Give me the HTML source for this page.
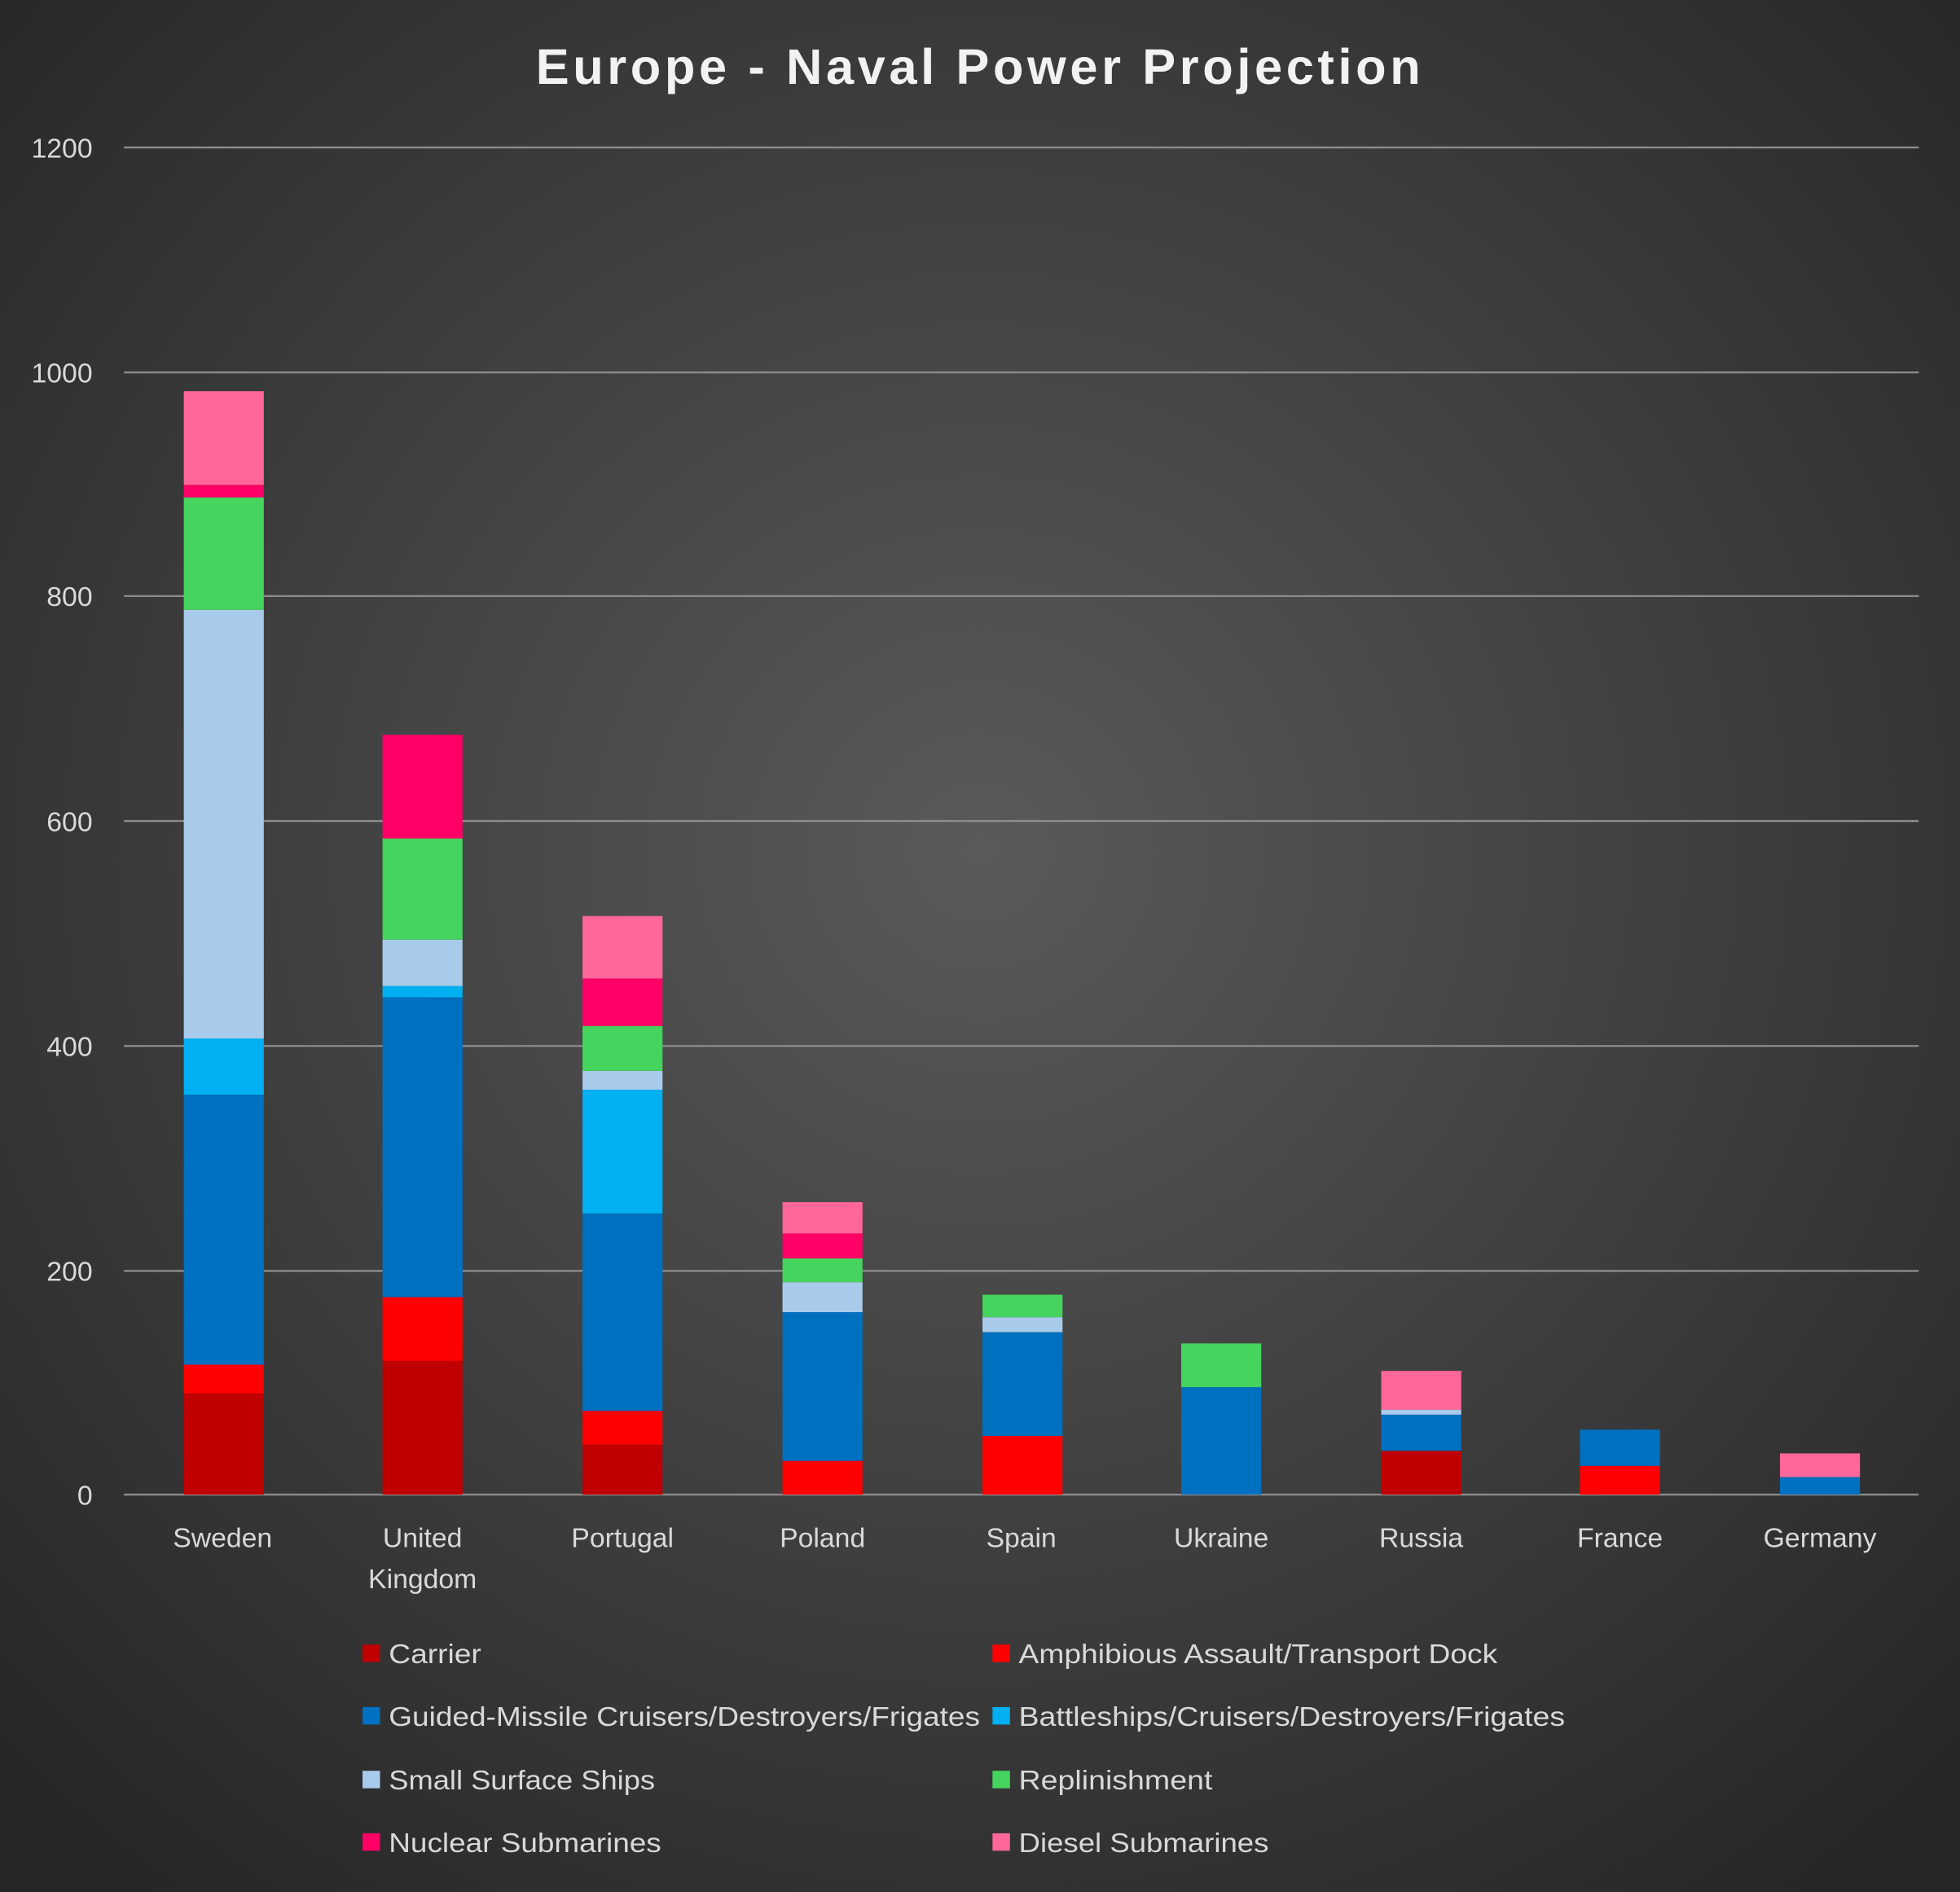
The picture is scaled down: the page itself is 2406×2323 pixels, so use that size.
<!DOCTYPE html>
<html><head><meta charset="utf-8"><style>
html,body{margin:0;padding:0;background:#2a2a2a;}
svg{display:block;}
text{font-family:"Liberation Sans","DejaVu Sans",sans-serif;fill:#d9d9d9;}
</style></head><body>
<svg width="2406" height="2323" viewBox="0 0 1568 1514" xmlns="http://www.w3.org/2000/svg">
<defs><radialGradient id="bg" cx="50%" cy="45%" r="70%">
<stop offset="0" stop-color="#5a5a5a"/><stop offset="1" stop-color="#262626"/></radialGradient></defs>
<rect width="1568" height="1514" fill="url(#bg)"/>
<text x="784" y="67" text-anchor="middle" font-size="40" font-weight="bold" letter-spacing="3" style="fill:#f2f2f2">Europe - Naval Power Projection</text>
<g stroke="#8c8c8c" stroke-width="1.5">
<line x1="99" x2="1535" y1="118" y2="118"/><line x1="99" x2="1535" y1="298" y2="298"/>
<line x1="99" x2="1535" y1="477" y2="477"/><line x1="99" x2="1535" y1="657" y2="657"/>
<line x1="99" x2="1535" y1="837" y2="837"/><line x1="99" x2="1535" y1="1017" y2="1017"/>
<line x1="99" x2="1535" y1="1196" y2="1196"/></g>
<g font-size="22" text-anchor="end">
<text x="74" y="126">1200</text><text x="74" y="306">1000</text><text x="74" y="485">800</text>
<text x="74" y="665">600</text><text x="74" y="845">400</text><text x="74" y="1025">200</text><text x="74" y="1204">0</text></g>
<g>
<rect x="147" width="64" y="1115" height="81" fill="#C00000"/><rect x="147" width="64" y="1092" height="23" fill="#FF0000"/>
<rect x="147" width="64" y="876" height="216" fill="#0070C0"/><rect x="147" width="64" y="831" height="45" fill="#00B0F0"/>
<rect x="147" width="64" y="488" height="343" fill="#A9CBEB"/><rect x="147" width="64" y="398" height="90" fill="#45D45E"/>
<rect x="147" width="64" y="388" height="10" fill="#FF0066"/><rect x="147" width="64" y="313" height="75" fill="#FF6699"/>
<rect x="306" width="64" y="1089" height="107" fill="#C00000"/><rect x="306" width="64" y="1038" height="51" fill="#FF0000"/>
<rect x="306" width="64" y="798" height="240" fill="#0070C0"/><rect x="306" width="64" y="789" height="9" fill="#00B0F0"/>
<rect x="306" width="64" y="752" height="37" fill="#A9CBEB"/><rect x="306" width="64" y="671" height="81" fill="#45D45E"/>
<rect x="306" width="64" y="588" height="83" fill="#FF0066"/>
<rect x="466" width="64" y="1156" height="40" fill="#C00000"/><rect x="466" width="64" y="1129" height="27" fill="#FF0000"/>
<rect x="466" width="64" y="971" height="158" fill="#0070C0"/><rect x="466" width="64" y="872" height="99" fill="#00B0F0"/>
<rect x="466" width="64" y="857" height="15" fill="#A9CBEB"/><rect x="466" width="64" y="821" height="36" fill="#45D45E"/>
<rect x="466" width="64" y="783" height="38" fill="#FF0066"/><rect x="466" width="64" y="733" height="50" fill="#FF6699"/>
<rect x="626" width="64" y="1169" height="27" fill="#FF0000"/><rect x="626" width="64" y="1050" height="119" fill="#0070C0"/>
<rect x="626" width="64" y="1026" height="24" fill="#A9CBEB"/><rect x="626" width="64" y="1007" height="19" fill="#45D45E"/>
<rect x="626" width="64" y="987" height="20" fill="#FF0066"/><rect x="626" width="64" y="962" height="25" fill="#FF6699"/>
<rect x="786" width="64" y="1149" height="47" fill="#FF0000"/><rect x="786" width="64" y="1066" height="83" fill="#0070C0"/>
<rect x="786" width="64" y="1054" height="12" fill="#A9CBEB"/><rect x="786" width="64" y="1036" height="18" fill="#45D45E"/>
<rect x="945" width="64" y="1110" height="86" fill="#0070C0"/><rect x="945" width="64" y="1075" height="35" fill="#45D45E"/>
<rect x="1105" width="64" y="1161" height="35" fill="#C00000"/><rect x="1105" width="64" y="1132" height="29" fill="#0070C0"/>
<rect x="1105" width="64" y="1128" height="4" fill="#A9CBEB"/><rect x="1105" width="64" y="1097" height="31" fill="#FF6699"/>
<rect x="1264" width="64" y="1173" height="23" fill="#FF0000"/><rect x="1264" width="64" y="1144" height="29" fill="#0070C0"/>
<rect x="1424" width="64" y="1182" height="14" fill="#0070C0"/><rect x="1424" width="64" y="1163" height="19" fill="#FF6699"/>
</g>
<g font-size="22" text-anchor="middle">
<text x="178" y="1238">Sweden</text><text x="338" y="1238">United</text><text x="338" y="1271">Kingdom</text>
<text x="498" y="1238">Portugal</text><text x="658" y="1238">Poland</text><text x="817" y="1238">Spain</text>
<text x="977" y="1238">Ukraine</text><text x="1137" y="1238">Russia</text><text x="1296" y="1238">France</text><text x="1456" y="1238">Germany</text></g>
<g font-size="22">
<rect x="290" y="1316" width="14" height="14" fill="#C00000"/><text x="311" y="1331" textLength="74" lengthAdjust="spacingAndGlyphs">Carrier</text>
<rect x="794" y="1316" width="14" height="14" fill="#FF0000"/><text x="815" y="1331" textLength="383" lengthAdjust="spacingAndGlyphs">Amphibious Assault/Transport Dock</text>
<rect x="290" y="1366" width="14" height="14" fill="#0070C0"/><text x="311" y="1381" textLength="473" lengthAdjust="spacingAndGlyphs">Guided-Missile Cruisers/Destroyers/Frigates</text>
<rect x="794" y="1366" width="14" height="14" fill="#00B0F0"/><text x="815" y="1381" textLength="437" lengthAdjust="spacingAndGlyphs">Battleships/Cruisers/Destroyers/Frigates</text>
<rect x="290" y="1417" width="14" height="14" fill="#A9CBEB"/><text x="311" y="1432" textLength="213" lengthAdjust="spacingAndGlyphs">Small Surface Ships</text>
<rect x="794" y="1417" width="14" height="14" fill="#45D45E"/><text x="815" y="1432" textLength="155" lengthAdjust="spacingAndGlyphs">Replinishment</text>
<rect x="290" y="1467" width="14" height="14" fill="#FF0066"/><text x="311" y="1482" textLength="218" lengthAdjust="spacingAndGlyphs">Nuclear Submarines</text>
<rect x="794" y="1467" width="14" height="14" fill="#FF6699"/><text x="815" y="1482" textLength="200" lengthAdjust="spacingAndGlyphs">Diesel Submarines</text>
</g>
</svg>
</body></html>
